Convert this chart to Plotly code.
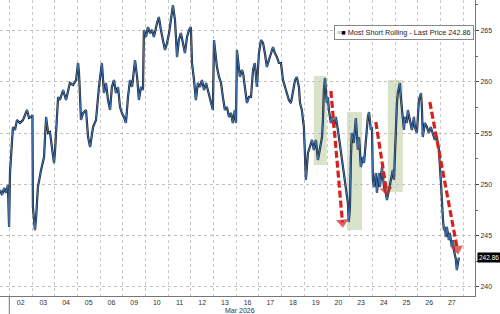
import plotly.graph_objects as go

# Trading-day position (0 = Mar 2 open, each unit = one session) and price
t = [-0.41, -0.32, -0.23, -0.15, -0.06, -0.01, 0.03, 0.12, 0.16, 0.25, 0.34, 0.47, 0.60, 0.78, 0.87, 0.96,
     1.02, 1.04, 1.13, 1.18, 1.26, 1.40, 1.53, 1.62, 1.71, 1.79, 1.88, 1.97,
     2.01, 2.06, 2.15, 2.23, 2.37, 2.50, 2.59, 2.67, 2.81, 2.94,
     3.03, 3.07, 3.11, 3.16, 3.25, 3.38, 3.47, 3.56, 3.69, 3.82, 3.95,
     4.04, 4.08, 4.17, 4.26, 4.35, 4.44, 4.52, 4.61, 4.70, 4.79, 4.88, 4.96,
     5.05, 5.14, 5.23, 5.32, 5.41, 5.54, 5.63, 5.71, 5.80, 5.89, 5.93,
     6.02, 6.11, 6.20, 6.29, 6.37, 6.51, 6.59, 6.68, 6.77, 6.86, 6.95,
     7.04, 7.12, 7.21, 7.30, 7.39, 7.47, 7.56, 7.65, 7.74, 7.83, 7.92,
     8.00, 8.05, 8.14, 8.22, 8.31, 8.40, 8.49, 8.58, 8.67, 8.75, 8.84, 8.93, 8.97,
     9.02, 9.06, 9.15, 9.24, 9.33, 9.41, 9.50, 9.59, 9.68, 9.77, 9.85, 9.94, 9.99,
     10.03, 10.07, 10.16, 10.25, 10.30, 10.38, 10.47, 10.56, 10.65, 10.74, 10.82, 10.91,
     11.00, 11.09, 11.18, 11.26, 11.35, 11.44, 11.53, 11.62, 11.70, 11.79, 11.88, 11.97,
     12.06, 12.15, 12.23, 12.32, 12.41, 12.50, 12.59, 12.67, 12.76, 12.81, 12.89, 12.98,
     13.03, 13.07, 13.16, 13.25, 13.34, 13.42, 13.51, 13.60, 13.69, 13.78, 13.82, 13.86, 13.91, 13.95, 13.99,
     14.04, 14.08, 14.17, 14.22, 14.30, 14.39, 14.48, 14.57, 14.66, 14.74, 14.83, 14.92, 14.96,
     15.01, 15.05, 15.09, 15.18, 15.23, 15.27, 15.36, 15.41, 15.49, 15.58, 15.63, 15.72, 15.80, 15.85, 15.93, 15.98,
     16.02, 16.07, 16.15, 16.20, 16.29, 16.33, 16.42, 16.51, 16.59, 16.64, 16.73, 16.81, 16.90, 16.95,
     17.03, 17.08, 17.12, 17.21, 17.25, 17.30, 17.39, 17.43, 17.52, 17.56, 17.65, 17.74, 17.83, 17.87, 17.96,
     18.00, 18.05, 18.14, 18.18, 18.22, 18.31, 18.40, 18.49, 18.57, 18.66, 18.75, 18.84, 18.93,
     19.02, 19.06, 19.11, 19.15, 19.19, 19.24, 19.28, 19.37, 19.41, 19.50, 19.55, 19.59, 19.68, 19.72, 19.77, 19.81]

price = [249.45, 248.96, 249.65, 249.16, 249.94, 245.85, 251.11, 254.33, 255.59, 255.30, 256.27, 255.98, 256.27, 257.25, 256.47, 256.57,
         256.76, 247.79, 245.55, 246.72, 249.74, 251.40, 252.67, 256.57, 255.01, 255.10, 253.64, 252.08,
         253.06, 255.59, 258.52, 258.22, 259.20, 258.22, 259.20, 259.88, 259.69, 260.17,
         261.83, 260.86, 258.91, 256.27, 256.96, 257.25, 254.62, 253.64, 255.59, 256.27, 259.49,
         261.44, 261.83, 258.91, 259.88, 258.22, 257.25, 259.49, 260.17, 258.91, 259.49, 257.54, 256.96,
         256.57, 255.98, 258.52, 260.17, 259.49, 262.12, 260.47, 258.22, 259.49, 259.20, 265.05,
         264.36, 265.34, 264.75, 265.05, 264.36, 265.73, 266.31, 265.05, 264.07, 263.10, 263.78,
         264.75, 266.02, 267.48, 266.02, 262.41, 264.07, 264.75, 263.78, 262.80, 264.36, 265.05,
         265.34, 261.83, 260.17, 258.22, 259.88, 259.49, 260.17, 259.20, 259.88, 259.20, 258.22, 257.54, 257.25,
         264.07, 263.10, 261.44, 260.47, 259.88, 258.52, 257.25, 257.54, 256.57, 256.96, 255.98, 257.25, 255.98,
         263.10, 262.12, 260.47, 261.15, 260.86, 259.49, 257.93, 258.52, 258.52, 261.15, 261.83, 259.49,
         262.80, 264.07, 263.78, 262.80, 261.44, 262.12, 262.80, 263.39, 262.80, 262.41, 261.83, 261.83,
         260.17, 259.49, 258.91, 258.22, 257.93, 258.91, 260.17, 260.47, 259.49, 257.93, 257.25, 255.59,
         253.06, 250.43, 253.06, 253.64, 254.33, 253.35, 254.33, 252.38, 253.64, 254.62, 256.27, 259.20, 260.37, 258.91, 257.93,
         258.52, 257.25, 255.98, 256.57, 255.59, 256.57, 255.30, 254.03, 252.38, 251.11, 249.45, 248.18, 246.33,
         247.79, 252.38, 255.01, 254.03, 255.98, 256.47, 253.35, 254.62, 251.69, 252.67, 252.08, 255.01, 256.57, 257.05, 255.30, 255.59,
         250.43, 249.74, 251.11, 249.16, 251.11, 249.74, 251.69, 249.74, 249.16, 248.48, 249.45, 250.43, 251.40, 250.43,
         255.59, 257.93, 258.91, 259.88, 258.52, 257.25, 255.30, 256.57, 255.98, 257.25, 256.27, 255.30, 256.57, 255.59, 255.01,
         256.27, 258.22, 258.91, 257.54, 254.62, 255.98, 255.59, 255.01, 255.59, 255.01, 254.33, 254.62, 253.35,
         250.13, 248.18, 246.53, 245.55, 245.85, 244.87, 245.85, 244.58, 245.26, 243.90, 244.58, 243.60, 242.63, 241.65, 242.31, 242.86]

day_labels = ["02", "03", "04", "05", "06", "09", "10", "11", "12", "13",
              "16", "17", "18", "19", "20", "23", "24", "25", "26", "27"]
y_ticks = [240, 245, 250, 255, 260, 265]
series_name = "Most Short Rolling - Last Price"
last_price = 242.86
month_label = "Mar 2026"

# Highlighted zones: (t0, t1, low, high)
zones = [(13.42, 13.99, 251.89, 260.56),
         (14.88, 15.54, 245.55, 257.05),
         (16.68, 17.34, 249.26, 260.17)]
# Red arrows: (t_start, p_start, t_end, p_end)
arrows = [(14.17, 259.10, 14.68, 246.30),
          (16.15, 256.08, 16.62, 249.40),
          (18.53, 258.03, 19.74, 243.70)]

fig = go.Figure()

for (a, b, lo, hi) in zones:
    fig.add_shape(type="rect", x0=a, x1=b, y0=lo, y1=hi, xref="x", yref="y",
                  fillcolor="#d9e3c9", line_width=0, layer="below")

fig.add_trace(go.Scatter(x=t, y=price, mode="lines", line=dict(color="#18202e", width=2.2),
                         hoverinfo="skip", showlegend=False))
fig.add_trace(go.Scatter(x=t, y=price, mode="lines", line=dict(color="#4a8ad4", width=0.8),
                         showlegend=False))

for (x0, y0, x1, y1) in arrows:
    fig.add_trace(go.Scatter(x=[x0, x1], y=[y0, y1], mode="lines+markers",
                             line=dict(color="#d6221a", width=3.2, dash="7px,3px"),
                             marker=dict(symbol=["circle", "triangle-up"], size=[6, 11], color="#d6221a",
                                         angleref="previous", line_width=0),
                             showlegend=False, hoverinfo="skip"))

fig.add_shape(type="line", x0=0, x1=0, xref="x", y0=-0.1, y1=0, yref="paper",
              line=dict(color="#777", width=1))

fig.add_annotation(x=1, xref="paper", y=last_price, yref="y", xanchor="left", yanchor="middle",
                   xshift=2, text=f"{last_price:.2f}", showarrow=False,
                   font=dict(family="Liberation Sans", size=6.5, color="white"),
                   bgcolor="black", borderpad=1)

fig.add_annotation(x=0.998, xref="paper", y=0.915, yref="paper", xanchor="right", yanchor="top",
                   text=f"<span style='color:#aaa'>≡</span><span style='color:black'>■</span> {series_name} {last_price:.2f}",
                   showarrow=False, font=dict(family="Liberation Sans", size=7.3, color="#222"),
                   bgcolor="white", bordercolor="#888", borderwidth=1, borderpad=2, align="left")

fig.add_annotation(x=10.15, xref="x", y=-0.05, yref="paper", xanchor="center", yanchor="middle",
                   text=month_label, showarrow=False,
                   font=dict(family="Liberation Sans", size=7, color="#333"))

fig.update_layout(
    width=500, height=314,
    margin=dict(l=0, r=25, t=0, b=18),
    paper_bgcolor="white", plot_bgcolor="white",
    showlegend=False,
    xaxis=dict(range=[-0.41, 20.52], tickmode="array",
               tickvals=[i + 0.5 for i in range(len(day_labels))], ticktext=day_labels,
               showgrid=False, ticks="", zeroline=False,
               showline=True, linecolor="#777", linewidth=1,
               tickfont=dict(family="Liberation Sans", size=7, color="#333"),
               minor=dict(tickmode="array", tickvals=list(range(0, 21)), showgrid=True,
                          gridcolor="#c8c8c8", griddash="dot", gridwidth=1)),
    yaxis=dict(range=[239.12, 267.97], side="right", tickmode="array", tickvals=y_ticks,
               showgrid=True, gridcolor="#c0c0c0", griddash="dot", gridwidth=1,
               zeroline=False, showline=True, linecolor="#777", linewidth=1,
               ticks="outside", ticklen=3, tickcolor="#444",
               minor=dict(dtick=2.5, ticks="outside", ticklen=2, tickcolor="#666"),
               tickfont=dict(family="Liberation Sans", size=7, color="#333")),
)

fig.write_html("out.html")
